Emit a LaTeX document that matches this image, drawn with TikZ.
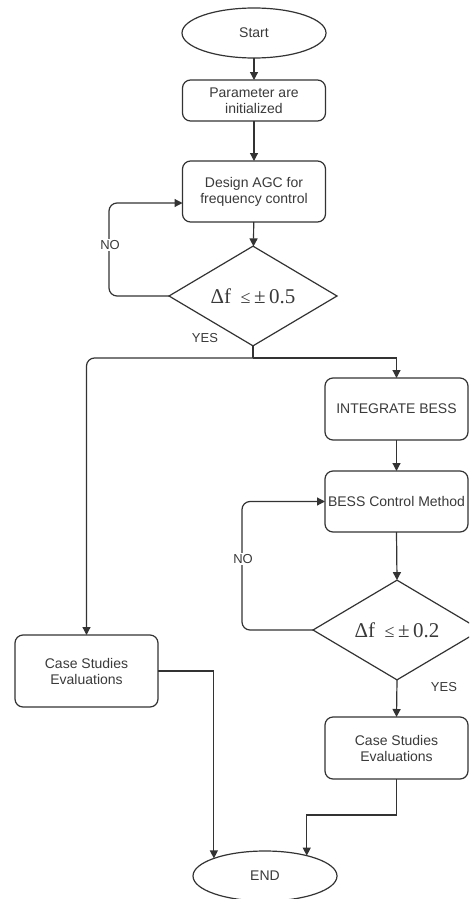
\documentclass[tikz,border=0pt]{standalone}
\usepackage{fontspec}
\setmainfont{Liberation Sans}
\newfontfamily\serifdelta{Liberation Serif}
\usetikzlibrary{shapes.geometric,arrows.meta}
\definecolor{ln}{HTML}{333333}
\definecolor{tx}{HTML}{3A3A3A}
\tikzset{
  every node/.style={font=\fontsize{14}{16}\selectfont, text=tx},
  procbox/.style={draw=ln, line width=1.2pt, rectangle, rounded corners=8pt, minimum width=143pt, inner sep=0pt, outer sep=0pt, align=center},
  termnode/.style={draw=ln, line width=1.2pt, ellipse, minimum width=144pt, minimum height=50pt, inner sep=0pt, outer sep=0pt},
  decnode/.style={draw=ln, line width=1.2pt, diamond, minimum width=168pt, inner sep=0pt, outer sep=0pt, font=\serifdelta\fontsize{21}{23}\selectfont},
  conn/.style={draw=ln, line width=1.2pt},
  arr/.style={conn, -{Triangle[width=8pt,length=8pt]}},
  lbl/.style={fill=white, inner sep=1pt, font=\fontsize{13}{15}\selectfont}
}
\begin{document}
\begin{tikzpicture}[x=1pt,y=-1pt]
\path[use as bounding box, clip] (0,0) rectangle (469,899);
\fill[white] (0,0) rectangle (469,899);

\node[termnode] (start) at (254,33) {Start};
\node[procbox, minimum height=41pt] (p1) at (254,100.5) {Parameter are\\initialized};
\node[procbox, minimum height=61pt] (p2) at (254,191.5) {Design AGC for\\frequency control};
\node[decnode, minimum height=82pt] (d1) at (253,296) {Δf\hspace{0.45em}{\fontsize{18}{20}\selectfont≤}\,±\,0.5};

\node[procbox, minimum height=62pt] (ib) at (396.5,409) {INTEGRATE BESS};
\node[procbox, minimum height=61pt] (bc) at (396.5,501.5) {BESS Control Method};
\node[decnode, minimum height=91pt] (d2) at (397,630) {Δf\hspace{0.45em}{\fontsize{18}{20}\selectfont≤}\,±\,0.2};
\node[procbox, minimum height=62pt] (c2) at (396.5,748) {Case Studies\\Evaluations};
\node[procbox, minimum height=72pt] (c1) at (86.5,671) {Case Studies\\Evaluations};
\node[termnode] (end) at (265,876) {END};

\draw[arr] (start) -- (p1);
\draw[arr] (p1) -- (p2);
\draw[arr] (p2) -- (d1);
\draw[arr, rounded corners=8pt] (d1.west) -| (109,203) -- (p2.west |- 0,203);
\node[lbl] (no1) at (110,245) {NO};
\node[lbl, fill=none] (yes1) at (205,338) {YES};

\draw[conn] (d1.south) -- (253,358) coordinate (split);
\draw[arr, rounded corners=8pt] (split) -| (c1.north);
\draw[arr] (split) -| (ib.north);

\draw[arr] (ib) -- (bc);
\draw[arr] (bc.south) -- (d2.north);
\draw[arr, rounded corners=8pt] (d2.west) -| (242,501.5) -- (bc.west);
\node[lbl] (no2) at (243,559) {NO};
\draw[arr] (d2.south) -- (c2.north);
\node[lbl, fill=none] (yes2) at (444,687) {YES};

\draw[arr] (c1.east) -| (end.161);
\draw[arr] (c2.south) -- (396.5,815) -| (end.26.6);
\end{tikzpicture}
\end{document}
